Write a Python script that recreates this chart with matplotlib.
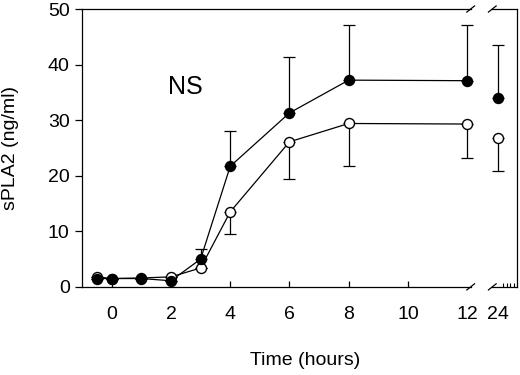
import numpy as np
import matplotlib
matplotlib.use('Agg')
import matplotlib.pyplot as plt
import matplotlib.transforms as mtransforms

plt.rcParams['font.family'] = ['Liberation Sans', 'DejaVu Sans']

# time points (24 h is drawn after the axis break)
hours = [-0.5, 0, 1, 2, 3, 4, 6, 8, 12, 24]
filled = [1.5, 1.5, 1.5, 1.1, 5.0, 21.7, 31.3, 37.2, 37.1, 34.0]
filled_err = [0, 0, 0, 0, 1.8, 6.4, 10.1, 10.0, 10.1, 9.5]
open_ = [1.8, 1.5, 1.6, 1.8, 3.4, 13.5, 26.1, 29.4, 29.3, 26.7]
open_err = [0, 0, 0, 0, 0, 4.0, 6.7, 7.6, 6.2, 5.8]

tick_hours = [0, 2, 4, 6, 8, 10, 12, 24]
tick_labels = ['0', '2', '4', '6', '8', '10', '12', '24']


def to_axis(h):
    # 24 h sits just right of the break
    return 13.04 if h == 24 else h


x = np.array([to_axis(h) for h in hours], dtype=float)
filled = np.array(filled)
open_ = np.array(open_)
filled_err = np.array(filled_err)
open_err = np.array(open_err)
cont = x < 13  # points joined by lines

fig = plt.figure(figsize=(5.2, 3.75), dpi=100)
ax = fig.add_axes([0.158, 0.235, 0.836, 0.741])

lw = 0.9
fs = 14
# error bars: filled up, open down
ax.errorbar(x, filled, yerr=[np.zeros_like(filled_err), filled_err], fmt='none',
            ecolor='black', elinewidth=lw, capsize=4, capthick=lw, zorder=2)
ax.errorbar(x, open_, yerr=[open_err, np.zeros_like(open_err)], fmt='none',
            ecolor='black', elinewidth=lw, capsize=4, capthick=lw, zorder=2)

ax.plot(x[cont], open_[cont], color='black', lw=lw, zorder=3)
ax.plot(x[cont], filled[cont], color='black', lw=lw, zorder=4)
ax.plot(x, open_, 'o', ms=7.2, mfc='white', mec='black', mew=1.0, ls='none', zorder=5)
ax.plot(x, filled, 'o', ms=7.2, mfc='black', mec='black', mew=1.0, ls='none', zorder=6)

xmin, xmax = -1.0, 13.68
brk_l, brk_r = 12.12, 12.85
ax.set_xlim(xmin, xmax)
ax.set_ylim(0, 50)

# spines with a break
for s in ['top', 'bottom']:
    ax.spines[s].set_visible(False)
ax.spines['left'].set_linewidth(lw)
ax.spines['right'].set_linewidth(lw)
trans = mtransforms.blended_transform_factory(ax.transData, ax.transAxes)
for yy in [0, 1]:
    ax.plot([xmin, brk_l], [yy, yy], color='black', lw=lw, transform=trans, clip_on=False)
    ax.plot([brk_r, xmax], [yy, yy], color='black', lw=lw, transform=trans, clip_on=False)
    for xb in [brk_l, brk_r]:
        ax.plot([xb - 0.13, xb + 0.13], [yy - 0.011, yy + 0.011], color='black', lw=lw,
                transform=trans, clip_on=False)

ax.set_xticks([to_axis(h) for h in tick_hours])
ax.set_xticklabels(tick_labels)
ax.set_xticks([13.2, 13.33, 13.46, 13.59], minor=True)
ax.tick_params(axis='x', which='major', direction='in', length=4, width=lw, pad=14, labelsize=fs)
ax.tick_params(axis='x', which='minor', direction='in', length=3, width=0.8)
for t in ax.xaxis.get_major_ticks()[-2:]:
    t.tick1line.set_visible(False)
ax.set_yticks(range(0, 51, 10))
ax.tick_params(axis='y', direction='out', length=5, width=lw, pad=4, labelsize=fs)

ax.set_ylabel('sPLA2 (ng/ml)', fontsize=fs)
ax.yaxis.set_label_coords(-0.145, 0.5)
ax.set_xlabel('Time (hours)', fontsize=fs)
ax.xaxis.set_label_coords(0.513, -0.235)

ax.text(2.47, 36, 'NS', fontsize=18, ha='center', va='center')

fig.savefig('out.png', dpi=100)
